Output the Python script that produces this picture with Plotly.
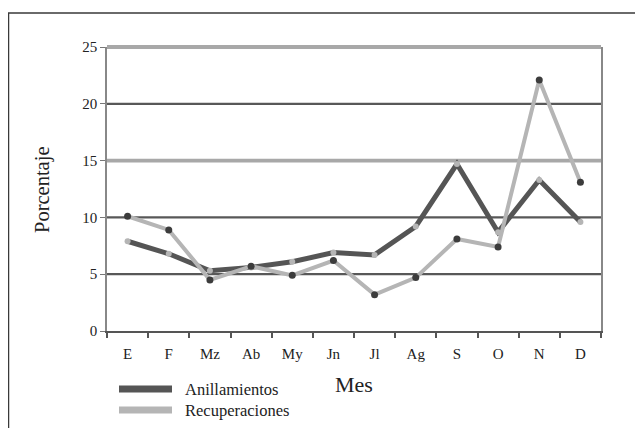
import plotly.graph_objects as go

months = ["E", "F", "Mz", "Ab", "My", "Jn", "Jl", "Ag", "S", "O", "N", "D"]
anillamientos = [7.9, 6.8, 5.3, 5.6, 6.1, 6.9, 6.7, 9.2, 14.7, 8.7, 13.3, 9.6]
recuperaciones = [10.1, 8.9, 4.5, 5.7, 4.9, 6.2, 3.2, 4.7, 8.1, 7.4, 22.1, 13.1]
series_names = ["Anillamientos", "Recuperaciones"]
y_ticks = [0, 5, 10, 15, 20, 25]
dark_grid = [5, 10, 20]
light_grid = [15, 25]
Y_MAX = 25

DARK = "#555555"
LIGHT = "#b5b5b5"
FONT = "Liberation Serif, Times New Roman, serif"

# page offset (browser body margin of 8px)
OFF = 8
PL, PR, PT, PB = 107, 601, 47, 331  # plot area in page pixels


def px2x(px):
    return (px - PL) / (PR - PL)


def py2y(py):
    return (PB - py) / (PB - PT)


fig = go.Figure()

for v in dark_grid:
    fig.add_shape(type="line", xref="paper", yref="paper", x0=0, x1=1, y0=v / Y_MAX, y1=v / Y_MAX,
                  line=dict(color="#585858", width=2.2), layer="below")
for v in light_grid:
    fig.add_shape(type="line", xref="paper", yref="paper", x0=0, x1=1, y0=v / Y_MAX, y1=v / Y_MAX,
                  line=dict(color="#a8a8a8", width=3.8), layer="below")

fig.add_trace(go.Scatter(x=months, y=anillamientos, mode="lines+markers", name=series_names[0],
                         line=dict(color=DARK, width=5),
                         marker=dict(color=LIGHT, size=6), showlegend=False))
fig.add_trace(go.Scatter(x=months, y=recuperaciones, mode="lines+markers", name=series_names[1],
                         line=dict(color=LIGHT, width=4),
                         marker=dict(color="#3c3c3c", size=7), showlegend=False))

# outer frame
fig.add_shape(type="rect", xref="paper", yref="paper",
              x0=px2x(8.5), x1=px2x(636), y0=py2y(480), y1=py2y(13),
              line=dict(color="#3a3a3a", width=1.5), fillcolor="rgba(0,0,0,0)")

# legend drawn manually
legend_colors = [DARK, LIGHT]
legend_ys = [389, 410]
for name, col, ly in zip(series_names, legend_colors, legend_ys):
    fig.add_shape(type="line", xref="paper", yref="paper",
                  x0=px2x(119), x1=px2x(172), y0=py2y(ly), y1=py2y(ly),
                  line=dict(color=col, width=7))
    fig.add_annotation(xref="paper", yref="paper", x=px2x(183), y=py2y(ly),
                       text=name, showarrow=False, xanchor="left", yanchor="middle",
                       font=dict(family=FONT, size=16.5, color="#222"))

fig.add_annotation(xref="paper", yref="paper", x=px2x(354), y=py2y(384), text="Mes",
                   showarrow=False, xanchor="center", yanchor="middle",
                   font=dict(family=FONT, size=22, color="#222"))
fig.add_annotation(xref="paper", yref="paper", x=px2x(42), y=py2y(190), text="Porcentaje",
                   showarrow=False, xanchor="center", yanchor="middle", textangle=-90,
                   font=dict(family=FONT, size=20.5, color="#222"))

fig.update_layout(
    width=643 - OFF, height=428 - OFF,
    margin=dict(l=PL - OFF, r=643 - PR, t=PT - OFF, b=428 - PB),
    paper_bgcolor="white", plot_bgcolor="white",
    font=dict(family=FONT, size=14, color="#222"),
)
fig.update_xaxes(type="category", range=[-0.5, 11.5], tickson="boundaries",
                 ticks="outside", ticklen=5, tickcolor="#555", tickwidth=1.5,
                 showline=True, linecolor="#555", linewidth=2,
                 showgrid=False, ticklabelstandoff=8,
                 tickfont=dict(family=FONT, size=15, color="#222"))
fig.update_yaxes(range=[0, Y_MAX], tickvals=y_ticks, ticks="outside", ticklen=5,
                 tickcolor="#777", showline=True, mirror=True, linecolor="#888", linewidth=1.5,
                 showgrid=False, zeroline=False,
                 tickfont=dict(family=FONT, size=15, color="#222"))

fig.write_html("out.html")
